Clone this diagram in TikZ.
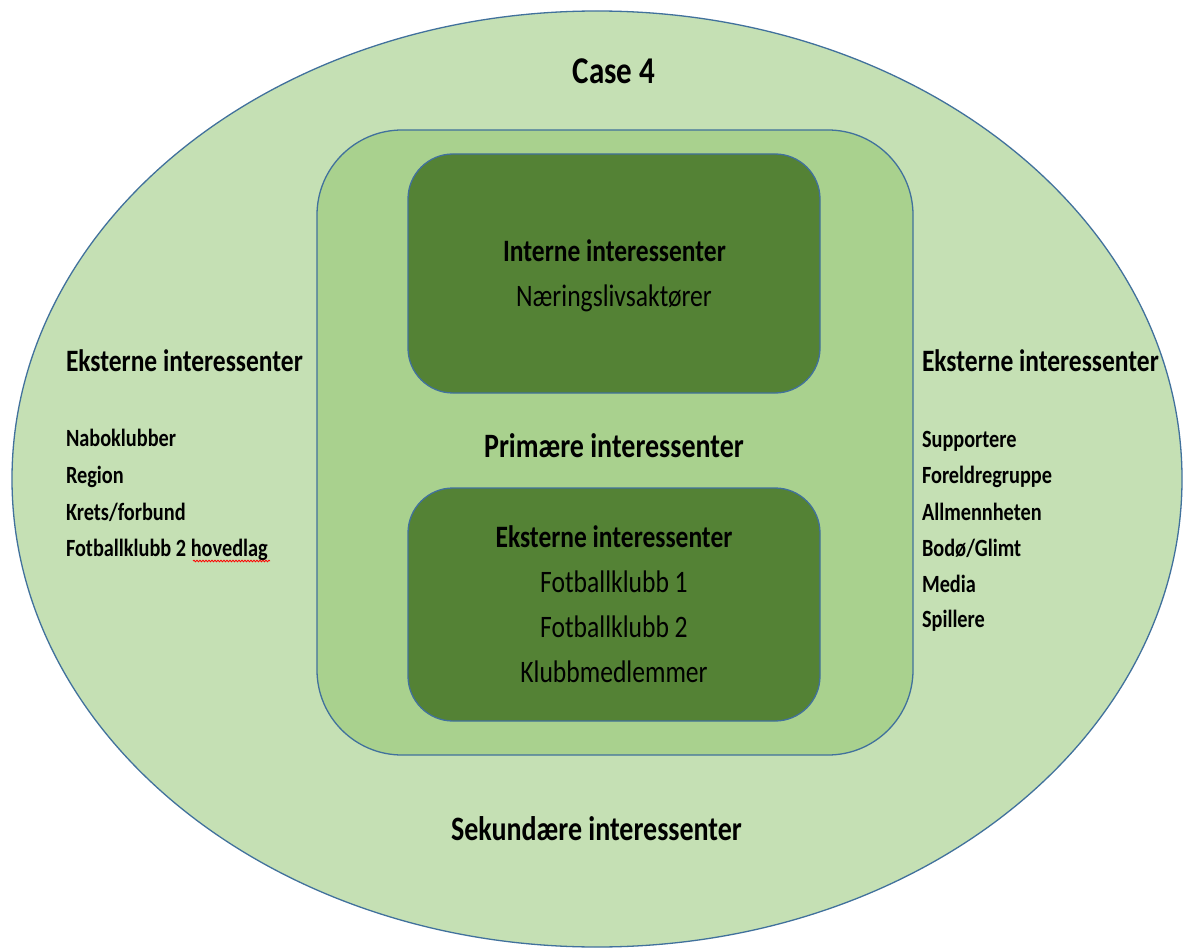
\documentclass[tikz,border=0pt]{standalone}
\usepackage{fontspec}
\setmainfont{Carlito}
\usetikzlibrary{shapes.geometric,decorations.pathmorphing}
\definecolor{outerfill}{HTML}{C5E0B4}
\definecolor{midfill}{HTML}{A9D18E}
\definecolor{darkfill}{HTML}{548235}
\definecolor{edgeblue}{HTML}{41719C}
\newcommand\vstretch[1]{\scalebox{1}[1.22]{#1}}
\begin{document}
\begin{tikzpicture}[x=1pt,y=1pt,
  lbl/.style={inner sep=0pt, outer sep=0pt, anchor=base},
  titlelbl/.style={lbl, font=\fontsize{31}{36}\selectfont\bfseries},
  biglbl/.style={lbl, font=\fontsize{28}{33}\selectfont\bfseries},
  headlbl/.style={lbl, font=\fontsize{25.5}{30}\selectfont\bfseries},
  sideitem/.style={lbl, anchor=base west, font=\fontsize{20.3}{24}\selectfont\bfseries},
  boxitem/.style={lbl, font=\fontsize{25.6}{30}\selectfont},
  outershape/.style={ellipse, draw=edgeblue, line width=1.3pt, fill=outerfill, inner sep=0pt, outer sep=0pt},
  midshape/.style={draw=edgeblue, line width=1.3pt, fill=midfill, rounded corners=85pt, inner sep=0pt, outer sep=0pt},
  darkshape/.style={draw=edgeblue, line width=1.3pt, fill=darkfill, rounded corners=45pt, inner sep=0pt, outer sep=0pt},
  squiggle/.style={red, line width=0.8pt, decorate, decoration={snake, segment length=3pt, amplitude=0.8pt}}
]
\useasboundingbox (0,0) rectangle (1183,-949);
\fill[white] (0,0) rectangle (1183,-949);

\node[outershape, minimum width=1170pt, minimum height=936pt] (outer) at (597,-479) {};
\node[midshape, minimum width=596pt, minimum height=625pt] (primary) at (615,-442.5) {};
\node[darkshape, minimum width=412pt, minimum height=239pt] (internal) at (614,-273.5) {};
\node[darkshape, minimum width=412pt, minimum height=233pt] (external) at (614,-604.5) {};

\node[titlelbl] (case) at (614,-84) {\vstretch{Case 4}};

\node[headlbl] (inthead) at (614.5,-262) {\vstretch{Interne interessenter}};
\node[boxitem] (intitem) at (614,-307) {\vstretch{Næringslivsaktører}};

\node[biglbl] (prim) at (614,-457) {\vstretch{Primære interessenter}};

\node[headlbl] (exthead) at (614,-547) {\vstretch{Eksterne interessenter}};
\node[boxitem] (ext1) at (614,-592) {\vstretch{Fotballklubb 1}};
\node[boxitem] (ext2) at (614,-637) {\vstretch{Fotballklubb 2}};
\node[boxitem] (ext3) at (614,-682) {\vstretch{Klubbmedlemmer}};

\node[headlbl, anchor=base west] (lhead) at (66,-372) {\vstretch{Eksterne interessenter}};
\node[sideitem] (l1) at (66,-446) {\vstretch{Naboklubber}};
\node[sideitem] (l2) at (66,-483) {\vstretch{Region}};
\node[sideitem] (l3) at (66,-520) {\vstretch{Krets/forbund}};
\node[sideitem] (l4) at (66,-556) {\vstretch{Fotballklubb 2 hovedlag}};
\coordinate (sqa) at (193,-561);
\coordinate (sqb) at (270,-561);
\draw[squiggle] (sqa) -- (sqb);

\node[headlbl, anchor=base west] (rhead) at (922,-372) {\vstretch{Eksterne interessenter}};
\node[sideitem] (r1) at (922,-447) {\vstretch{Supportere}};
\node[sideitem] (r2) at (922,-483) {\vstretch{Foreldregruppe}};
\node[sideitem] (r3) at (922,-520) {\vstretch{Allmennheten}};
\node[sideitem] (r4) at (922,-556) {\vstretch{Bodø/Glimt}};
\node[sideitem] (r5) at (922,-592) {\vstretch{Media}};
\node[sideitem] (r6) at (922,-627) {\vstretch{Spillere}};

\node[biglbl] (sek) at (596.5,-840) {\vstretch{Sekundære interessenter}};
\end{tikzpicture}
\end{document}
